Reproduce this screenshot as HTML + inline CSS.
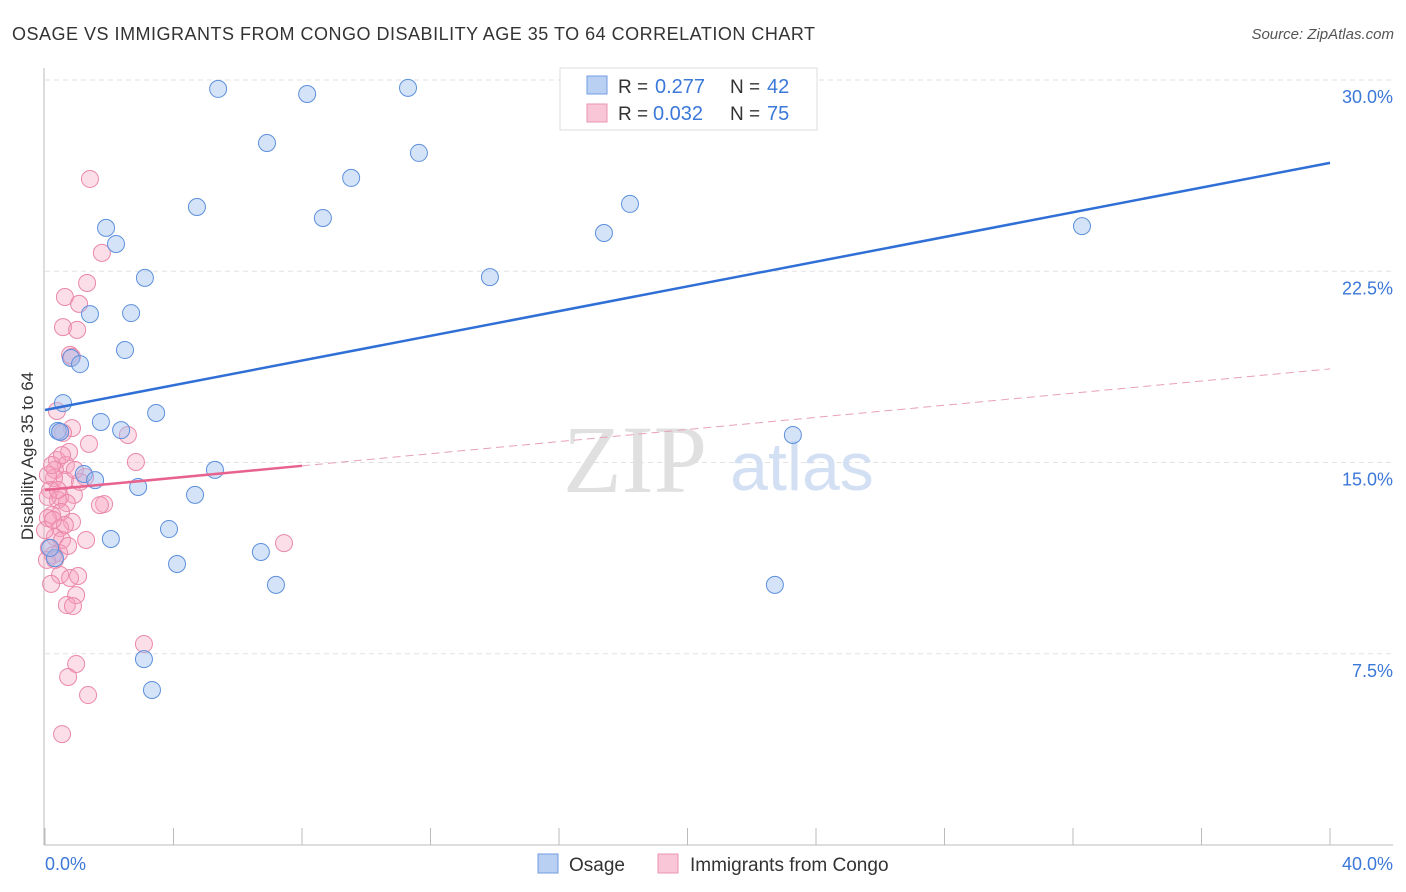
<!DOCTYPE html>
<html><head><meta charset="utf-8">
<style>
body{margin:0;background:#fff;font-family:"Liberation Sans",sans-serif;}
#wrap{position:relative;width:1406px;height:892px;overflow:hidden;}
</style></head>
<body>
<div id="wrap">
<svg id="chart" width="1406" height="892" xmlns="http://www.w3.org/2000/svg">
<text x="12" y="40" font-size="18" fill="#333" textLength="803" lengthAdjust="spacing">OSAGE VS IMMIGRANTS FROM CONGO DISABILITY AGE 35 TO 64 CORRELATION CHART</text>
<text x="1394" y="39" font-size="15" fill="#555" font-style="italic" text-anchor="end">Source: ZipAtlas.com</text>
<text x="0" y="0" transform="translate(33,456) rotate(-90)" font-size="17" fill="#333" text-anchor="middle">Disability Age 35 to 64</text>
<g id="grid"></g>
<text x="635" y="492" font-size="96" fill="#e0e0e0" font-family="Liberation Serif,serif" text-anchor="middle">ZIP</text>
<text x="802" y="490" font-size="68" fill="#d3e0f3" text-anchor="middle">atlas</text>
<g id="pts"></g>
<g id="lines"></g>
<g>
<rect x="560" y="68" width="257" height="62" fill="#fff" stroke="#ddd"/>
<rect x="587" y="76" width="20" height="18" fill="#b9d0f3" stroke="#6f9de0"/>
<text x="618" y="93" font-size="19" fill="#333">R = </text><text x="655" y="93" font-size="20" fill="#3b78d8">0.277</text>
<text x="730" y="93" font-size="19" fill="#333">N = </text><text x="767" y="93" font-size="20" fill="#3b78d8">42</text>
<rect x="587" y="104" width="20" height="18" fill="#f8c6d6" stroke="#eb94b1"/>
<text x="618" y="120" font-size="19" fill="#333">R = </text><text x="653" y="120" font-size="20" fill="#3b78d8">0.032</text>
<text x="730" y="120" font-size="19" fill="#333">N = </text><text x="767" y="120" font-size="20" fill="#3b78d8">75</text>
</g>
<g>
<rect x="538" y="854" width="20" height="19" fill="#b9d0f3" stroke="#6f9de0"/>
<text x="569" y="871" font-size="19" fill="#333">Osage</text>
<rect x="658" y="854" width="20" height="19" fill="#f8c6d6" stroke="#eb94b1"/>
<text x="690" y="871" font-size="19" fill="#333">Immigrants from Congo</text>
</g>
</svg>
</div>
<script>
const yTicks=[7.5,15,22.5,30];
const xTickLabels=["0.0%","40.0%"];
const osageX=[5.39,8.16,11.30,6.91,11.64,9.53,4.73,8.65,1.90,2.21,3.11,13.85,17.40,18.21,32.28,1.40,2.68,2.49,0.81,1.09,0.56,3.46,1.74,2.37,23.28,0.40,5.29,1.21,1.56,2.90,4.67,3.86,2.05,6.72,0.31,4.11,7.19,22.72,3.08,3.33,0.16,0.47];
const osageY=[29.65,29.45,29.69,27.53,27.14,26.16,25.02,24.59,24.20,23.57,22.24,22.27,24.00,25.14,24.27,20.82,20.86,19.41,19.10,18.86,17.33,16.94,16.59,16.27,16.08,16.24,14.71,14.55,14.31,14.04,13.73,12.39,12.00,11.49,11.25,11.02,10.20,10.20,7.29,6.08,11.65,16.20];
const congoX=[1.40,1.77,1.31,0.62,1.06,0.56,1.00,0.78,0.84,0.37,0.47,0.84,0.56,1.37,2.58,2.83,0.75,0.37,0.65,0.31,1.25,0.62,0.28,0.90,0.16,0.47,0.40,0.09,0.68,1.84,0.22,0.50,0.84,0.09,0.47,0.31,0.53,1.28,0.12,0.44,0.25,0.72,7.44,0.47,0.78,1.03,0.19,0.97,0.68,0.87,3.08,0.97,0.72,1.34,0.53,1.71,0.09,0.31,0.62,1.09,0.00,0.22,0.40,0.93,0.25,0.06,0.53];
const congoY=[26.12,23.22,22.04,21.49,21.22,20.31,20.20,19.22,19.14,17.02,16.20,16.35,16.16,15.73,16.08,15.02,15.41,15.10,14.90,14.71,14.43,14.31,14.39,13.73,13.92,13.65,13.53,13.65,13.41,13.37,12.94,13.06,12.67,12.82,12.43,12.08,11.96,11.96,11.65,11.45,11.37,11.73,11.84,10.59,10.47,10.55,10.24,9.80,9.41,9.37,7.88,7.10,6.59,5.88,4.35,13.33,14.51,11.18,12.55,14.24,12.35,14.90,13.92,14.71,12.75,11.18,15.29];
const osageTrend=[17.06,26.75];
const congoTrend=[13.92,18.67];
const congoSolidEnd=8;

const NS="http://www.w3.org/2000/svg";
const X0=45,X1=1330,Y0=845,Y30=80;
function sx(v){return X0+v/40*(X1-X0);}
function sy(v){return Y0-v/30*(Y0-Y30);}
function mk(tag,attrs,parent){const e=document.createElementNS(NS,tag);for(const k in attrs)e.setAttribute(k,attrs[k]);parent.appendChild(e);return e;}
const grid=document.getElementById('grid');
yTicks.forEach(t=>{
  const l=mk('line',{x1:45,x2:1393,y1:sy(t),y2:sy(t),stroke:'#e2e2e2','stroke-dasharray':'5,4'},grid);
  
  
  const tx=mk('text',{x:1393,y:sy(t)+23,'font-size':18,fill:'#3b78d8','text-anchor':'end'},grid);
  tx.textContent=t.toFixed(1)+'%';
  
  
});
const ax=mk('line',{x1:44,x2:44,y1:68,y2:845,stroke:'#bbb'},grid);


const bx=mk('line',{x1:44,x2:1393,y1:845,y2:845,stroke:'#bbb'},grid);


for(let i=0;i<=10;i++){
  const t=mk('line',{x1:sx(i*4),x2:sx(i*4),y1:828,y2:845,stroke:'#bbb'},grid);
  
  
}
const xl=mk('text',{x:45,y:870,'font-size':18,fill:'#3b78d8'},grid);xl.textContent=xTickLabels[0];


const xr=mk('text',{x:1393,y:870,'font-size':18,fill:'#3b78d8','text-anchor':'end'},grid);xr.textContent=xTickLabels[1];



const pts=document.getElementById('pts');
congoX.forEach((x,i)=>{
  const c=mk('circle',{cx:sx(x),cy:sy(congoY[i]),r:8.5,fill:'rgba(245,160,190,0.35)',stroke:'#ea88a8','stroke-width':1},pts);
  
  
});
osageX.forEach((x,i)=>{
  const c=mk('circle',{cx:sx(x),cy:sy(osageY[i]),r:8.5,fill:'rgba(160,192,240,0.45)',stroke:'#5d90dc','stroke-width':1},pts);
  
  
});
const lines=document.getElementById('lines');
const bl=mk('line',{x1:sx(0),y1:sy(osageTrend[0]),x2:sx(40),y2:sy(osageTrend[1]),stroke:'#2f6fd6','stroke-width':2.5},lines);


const pm=congoTrend[0]+(congoTrend[1]-congoTrend[0])*congoSolidEnd/40;
const pl=mk('line',{x1:sx(0),y1:sy(congoTrend[0]),x2:sx(congoSolidEnd),y2:sy(pm),stroke:'#e8628e','stroke-width':2.5},lines);


const pd=mk('line',{x1:sx(congoSolidEnd),y1:sy(pm),x2:sx(40),y2:sy(congoTrend[1]),stroke:'#e8a0b8','stroke-width':1,'stroke-dasharray':'8,5'},lines);


</script>
</body></html>
